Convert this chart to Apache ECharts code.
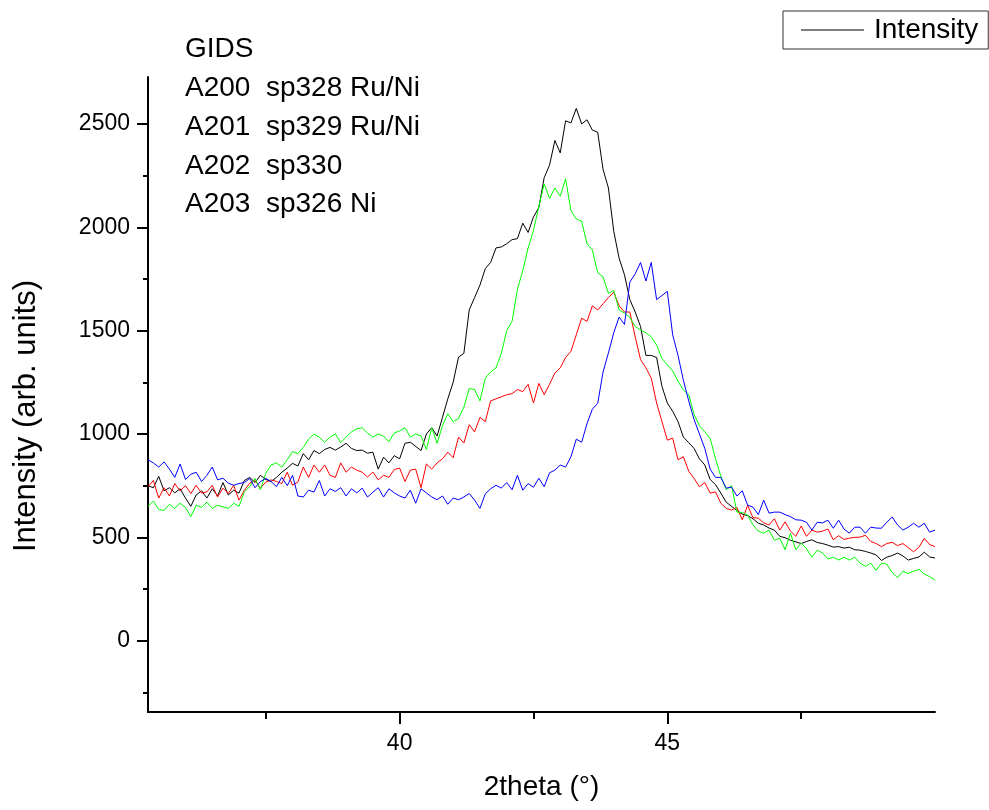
<!DOCTYPE html>
<html>
<head>
<meta charset="utf-8">
<title>GIDS scans</title>
<script src="https://cdn.jsdelivr.net/npm/echarts@6/dist/echarts.min.js"></script>
<style>
  html, body { margin: 0; padding: 0; background: #ffffff; }
  #chart { width: 989px; height: 810px; }
</style>
</head>
<body>
<div id="chart"></div>
<script>
// Scan grid: 2theta from 35.3 to 50.0 degrees, 0.1 degree steps
const scanStart = 35.3;
const scanStep = 0.1;

// Measured intensities (arb. units), one value per scan step
const seriesBlack = [
  750, 740, 795, 725, 740, 715, 735, 690, 650, 705,
  725, 690, 735, 700, 765, 705, 728, 714, 775, 790,
  765, 800, 780, 770, 790, 815, 835, 858, 845, 905,
  875, 920, 905, 925, 935, 922, 937, 955, 930, 920,
  922, 907, 912, 830, 888, 860, 895, 880, 955, 960,
  940, 920, 1000, 1030, 990, 1080, 1170, 1250, 1372, 1390,
  1600, 1660, 1720, 1800, 1830, 1900, 1905, 1920, 1940, 1945,
  2020, 1975, 2050, 2095, 2240, 2300, 2420, 2360, 2515, 2505,
  2575, 2500, 2520, 2470, 2460, 2280, 2190, 1980, 1850, 1770,
  1650, 1590, 1520, 1380, 1380, 1370, 1230, 1150, 1110, 1060,
  985, 958, 930, 880, 850, 780, 755, 714, 670, 650,
  630, 612, 605, 590, 568, 560, 545, 535, 505, 498,
  486, 478, 470, 480, 488, 475, 470, 462, 453, 455,
  448, 452, 440, 438, 432, 424, 415, 388, 404, 412,
  424, 410, 390, 398, 405, 428, 405, 400
];

const seriesGreen = [
  650, 675, 635, 630, 660, 640, 665, 645, 600, 655,
  645, 670, 640, 655, 648, 640, 665, 650, 720, 745,
  785, 730, 810, 850, 860, 840, 875, 915, 905, 935,
  975, 1000, 985, 960, 985, 1000, 958, 985, 1010, 1025,
  1030, 1005, 985, 1000, 990, 962, 1005, 1015, 1030, 985,
  1000, 990, 925, 1030, 955, 1040, 1098, 1060, 1075, 1130,
  1220, 1215, 1160, 1270, 1300, 1320, 1390, 1500, 1545, 1700,
  1790, 1900, 1985, 2100, 2210, 2140, 2190, 2150, 2235, 2080,
  2040, 2030, 1920, 1890, 1780, 1760, 1680, 1695, 1600, 1585,
  1565, 1520, 1503, 1490, 1470, 1430, 1365, 1335, 1305, 1255,
  1213, 1190, 1095, 1040, 1010, 980, 880, 795, 730, 750,
  622, 620, 607, 560, 530, 520, 535, 486, 496, 440,
  520, 440, 472, 445, 404, 438, 424, 395, 404, 390,
  404, 390, 404, 375, 360, 375, 340, 375, 370, 330,
  305, 336, 325, 336, 345, 322, 310, 293
];

const seriesRed = [
  745, 775, 690, 740, 700, 760, 725, 750, 712, 752,
  714, 720, 752, 695, 738, 712, 752, 680, 728, 762,
  775, 738, 767, 778, 770, 760, 815, 752, 768, 840,
  790, 850, 815, 850, 800, 790, 860, 815, 840, 825,
  815, 792, 816, 778, 800, 790, 828, 835, 770, 825,
  830, 740, 855, 830, 860, 880, 912, 885, 985, 956,
  1045, 1010, 1080, 1060, 1160, 1170, 1180, 1190, 1195, 1215,
  1205, 1240, 1150, 1245, 1190, 1240, 1295, 1320, 1370, 1400,
  1480, 1560, 1545, 1620, 1600, 1630, 1660, 1685, 1620, 1590,
  1590, 1470, 1360, 1320, 1270, 1150, 1060, 970, 980, 875,
  890, 820, 785, 745, 765, 714, 720, 665, 640, 632,
  645, 585, 655, 595, 593, 570, 560, 590, 535, 575,
  530, 505, 555, 505, 535, 525, 530, 540, 488, 508,
  490, 496, 500, 501, 510, 480, 470, 455, 470, 476,
  460, 470, 450, 430, 452, 495, 465, 455
];

const seriesBlue = [
  875, 860, 840, 865, 830, 790, 855, 780, 805, 815,
  770, 800, 840, 778, 786, 762, 752, 760, 765, 785,
  740, 770, 785, 770, 745, 790, 750, 800, 700, 695,
  728, 719, 775, 700, 735, 722, 740, 700, 735, 715,
  738, 695, 718, 740, 695, 735, 715, 700, 690, 728,
  665, 735, 715, 695, 682, 700, 660, 690, 682, 695,
  712, 680, 640, 710, 735, 752, 738, 765, 730, 800,
  728, 760, 742, 786, 745, 812, 825, 850, 840, 890,
  975, 960, 1050, 1120, 1148, 1300, 1392, 1490, 1566, 1530,
  1735, 1775, 1830, 1740, 1830, 1650, 1670, 1690, 1480, 1380,
  1260, 1160, 1070, 1000, 930, 830, 790, 790, 738, 743,
  700, 725, 656, 646, 610, 680, 617, 622, 622, 610,
  600, 585, 583, 573, 535, 573, 570, 583, 544, 583,
  540, 520, 549, 549, 520, 549, 545, 544, 573, 598,
  560, 535, 549, 568, 549, 568, 525, 535
];

// Axis ticks
const xLabelTicks = [40, 45];
const xMinorTicks = [37.5, 42.5, 47.5];
const yLabelTicks = [0, 500, 1000, 1500, 2000, 2500];
const yMinorTicks = [-250, 250, 750, 1250, 1750, 2250];

const sampleNotes = [
  'GIDS',
  'A200  sp328 Ru/Ni',
  'A201  sp329 Ru/Ni',
  'A202  sp330',
  'A203  sp326 Ni'
];

const FONT = '"Liberation Sans", Arial, Helvetica, sans-serif';

function pairs(values) {
  return values.map((v, i) => [+(scanStart + i * scanStep).toFixed(2), v]);
}

const chart = echarts.init(document.getElementById('chart'), null, { renderer: 'canvas' });

const xRange = { min: 35.3, max: 50.0 };
const yRange = { min: -345, max: 2727 };

function lineSeries(name, color, values) {
  return {
    name: name,
    type: 'line',
    data: pairs(values),
    showSymbol: false,
    symbol: 'none',
    lineStyle: { color: color, width: 1 },
    itemStyle: { color: color },
    emphasis: { disabled: true },
    animation: false
  };
}

const plainNumber = (v) => String(v);

chart.setOption({
  backgroundColor: '#ffffff',
  animation: false,
  grid: { left: 148, right: 54, top: 77, bottom: 98, containLabel: false },
  legend: {
    data: [{ name: 'Intensity', icon: 'rect' }],
    left: 783,
    top: 11,
    orient: 'horizontal',
    itemWidth: 63,
    itemHeight: 1,
    padding: [5, 10, 5, 18],
    borderColor: '#333333',
    borderWidth: 1,
    selectedMode: false,
    textStyle: { fontFamily: FONT, fontSize: 28, color: '#000000', padding: [0, 0, 0, 5] }
  },
  xAxis: [
    {
      type: 'value',
      min: xRange.min,
      max: xRange.max,
      position: 'bottom',
      name: '2theta (\u00b0)',
      nameLocation: 'middle',
      nameGap: 61,
      nameTextStyle: { fontFamily: FONT, fontSize: 28, color: '#000000' },
      axisLine: { show: true, onZero: false, lineStyle: { color: '#000000', width: 2 } },
      axisTick: { show: true, customValues: xLabelTicks, length: 12, inside: false, lineStyle: { color: '#000000', width: 2 } },
      axisLabel: { show: true, customValues: xLabelTicks, formatter: plainNumber, fontFamily: FONT, fontSize: 23, color: '#000000', margin: 20 },
      splitLine: { show: false }
    },
    {
      type: 'value',
      min: xRange.min,
      max: xRange.max,
      position: 'bottom',
      axisLine: { show: false, onZero: false },
      axisTick: { show: true, customValues: xMinorTicks, length: 7, inside: false, lineStyle: { color: '#000000', width: 2 } },
      axisLabel: { show: false },
      splitLine: { show: false }
    }
  ],
  yAxis: [
    {
      type: 'value',
      min: yRange.min,
      max: yRange.max,
      position: 'left',
      axisLine: { show: true, onZero: false, lineStyle: { color: '#000000', width: 2 } },
      axisTick: { show: true, customValues: yLabelTicks, length: 11, inside: false, lineStyle: { color: '#000000', width: 2 } },
      axisLabel: { show: true, customValues: yLabelTicks, formatter: plainNumber, fontFamily: FONT, fontSize: 23, color: '#000000', margin: 18 },
      splitLine: { show: false }
    },
    {
      type: 'value',
      min: yRange.min,
      max: yRange.max,
      position: 'left',
      offset: 0,
      axisLine: { show: false, onZero: false },
      axisTick: { show: true, customValues: yMinorTicks, length: 5, inside: false, lineStyle: { color: '#000000', width: 2 } },
      axisLabel: { show: false },
      splitLine: { show: false }
    }
  ],
  graphic: [
    {
      type: 'text',
      left: 185,
      top: 30,
      silent: true,
      style: {
        text: sampleNotes.join('\n'),
        fontFamily: FONT,
        fontSize: 28,
        lineHeight: 38.8,
        fill: '#000000'
      }
    },
    {
      type: 'text',
      x: 26,
      y: 416,
      rotation: Math.PI / 2,
      silent: true,
      style: {
        text: 'Intensity (arb. units)',
        fontFamily: FONT,
        fontSize: 31,
        fill: '#000000',
        align: 'center',
        verticalAlign: 'middle'
      }
    }
  ],
  series: [
    lineSeries('Intensity', '#000000', seriesBlack),
    lineSeries('A201', '#ff0000', seriesRed),
    lineSeries('A202', '#00ff00', seriesGreen),
    lineSeries('A203', '#0000ff', seriesBlue)
  ]
});
</script>
</body>
</html>
